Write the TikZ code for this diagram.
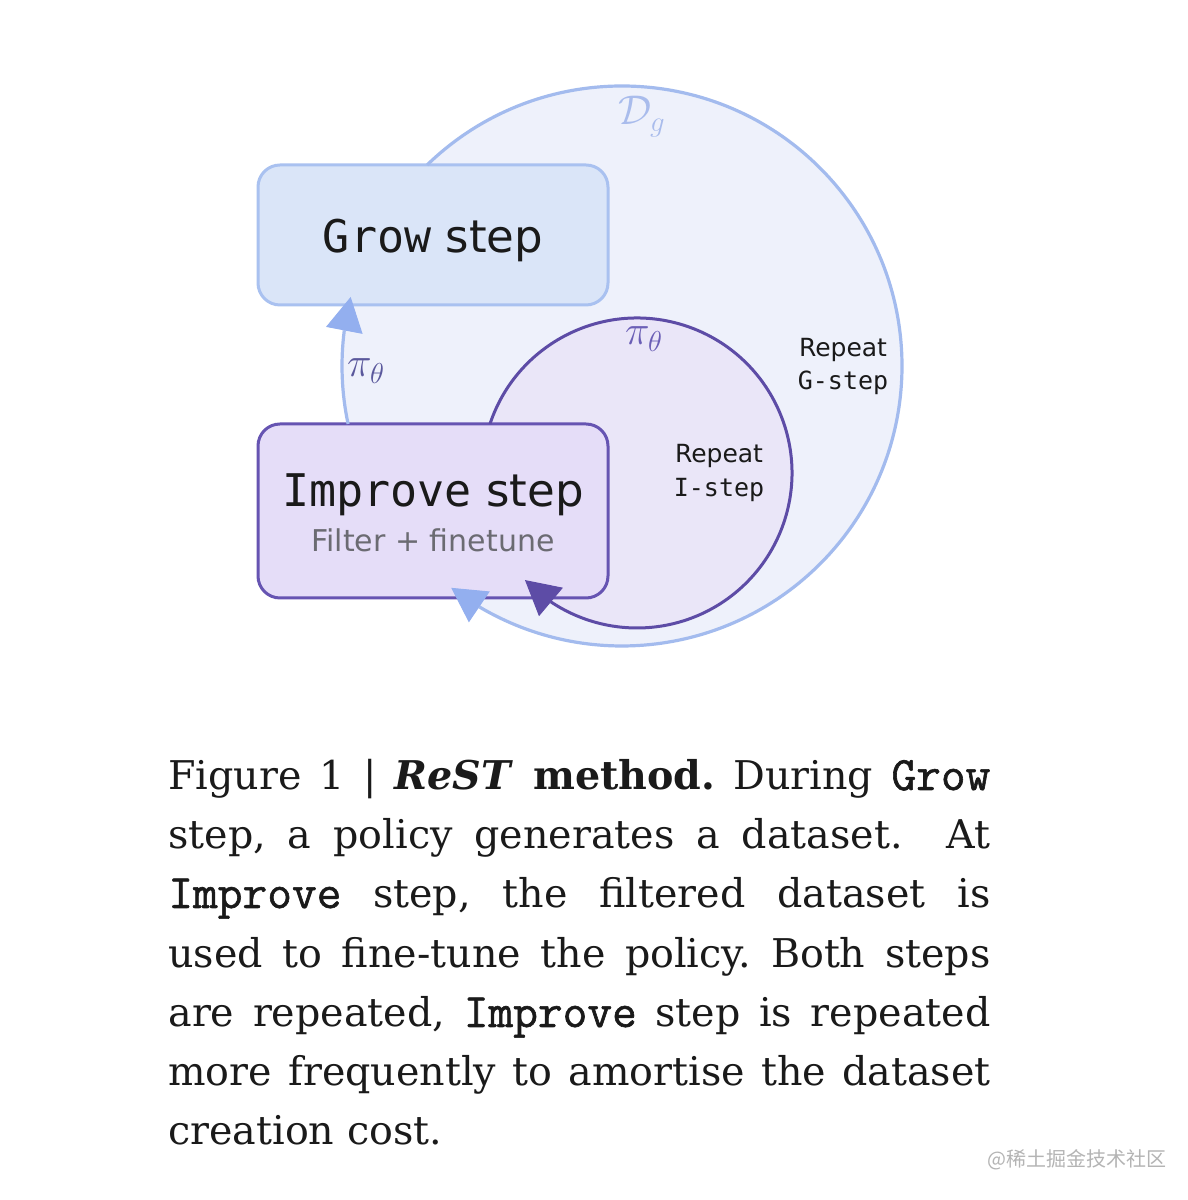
\documentclass[tikz,border=0pt]{standalone}
\usepackage{fontspec}
\usetikzlibrary{arrows.meta}
\newfontfamily\monof{DejaVu Sans Mono}
\newfontfamily\sansf{DejaVu Sans}
\newfontfamily\capf{DejaVu Serif}
\newfontfamily\capmono{Latin Modern Mono}[FakeBold=1.2]
\newfontfamily\cjkf{Noto Sans CJK SC}
\newcommand{\cmono}[1]{{\capmono\fontsize{24}{29.6}\selectfont #1}}
\definecolor{outerfill}{HTML}{EEF1FB}
\definecolor{outerline}{HTML}{A3BBEE}
\definecolor{outerhead}{HTML}{93AFEF}
\definecolor{innerfill}{HTML}{EAE6F8}
\definecolor{innerline}{HTML}{5D4CA6}
\definecolor{growfill}{HTML}{DAE5F8}
\definecolor{growline}{HTML}{A9C1F0}
\definecolor{impfill}{HTML}{E5DDF8}
\definecolor{impline}{HTML}{6654B2}
\definecolor{subgray}{HTML}{6B6B72}
\definecolor{pileft}{HTML}{5A589C}
\definecolor{piinner}{HTML}{6B5FB6}
\definecolor{dgcol}{HTML}{A9BCEC}
\definecolor{wmgray}{HTML}{B4B4B4}
\definecolor{ink}{HTML}{1A1A1A}
\begin{document}
\begin{tikzpicture}[x=0.5pt,y=0.5pt,
  stepbox/.style={draw, line width=1.5pt, rounded corners=11pt, minimum width=175pt, inner sep=0pt},
  titletext/.style={anchor=base, inner sep=0pt, text=ink, font=\sansf\fontsize{22.5}{27}\selectfont},
  reptext/.style={anchor=base, inner sep=0pt, text=ink, font=\sansf\fontsize{12.5}{15}\selectfont},
  captext/.style={anchor=base west, inner sep=0pt, text=ink, font=\capf\fontsize{19.8}{29.6}\selectfont\frenchspacing},
  outerarc/.style={draw=outerline, line width=1.6pt},
  innerarc/.style={draw=innerline, line width=1.5pt},
  outerhd/.style={draw=outerline, line width=1.6pt, -{Triangle[length=17pt,width=18.5pt,color=outerhead,fill=outerhead,line width=0.5pt]}},
  innerhd/.style={draw=innerline, line width=1.5pt, -{Triangle[length=17pt,width=18.5pt,color=innerline,fill=innerline,line width=0.5pt]}}
]
\useasboundingbox[fill=white] (0,0) rectangle (1188,1200);

% circles
\coordinate (oc) at (622,834);
\coordinate (ic) at (637,727);
\fill[outerfill] (oc) circle[radius=140pt];
\fill[innerfill] (ic) circle[radius=77.5pt];

% boxes
\node[stepbox, draw=growline, fill=growfill, minimum height=70pt] (grow) at (433,965) {};
\node[stepbox, draw=impline, fill=impfill, minimum height=87pt] (improve) at (433,689) {};

% box texts
\node[titletext] (growtxt) at (433,947) {{\monof Grow} step};
\node[titletext] (imptxt) at (433,693) {{\monof Improve} step};
\node[anchor=base, inner sep=0pt, text=subgray, font=\sansf\fontsize{15}{18}\selectfont] (subtxt) at (433,648) {Filter + finetune};

% arc end points
\coordinate (gA) at ([shift={(134.1:140pt)}]oc);
\coordinate (gB) at ([shift={(-120.6:140pt)}]oc);
\coordinate (gT) at ([shift={(-127.6:140pt)}]oc);
\coordinate (lA) at ([shift={(191.95:140pt)}]oc);
\coordinate (lB) at ([shift={(172.7:140pt)}]oc);
\coordinate (lT) at ([shift={(165.73:140pt)}]oc);
\coordinate (iA) at ([shift={(161.57:77.5pt)}]ic);
\coordinate (iB) at ([shift={(-123.8:77.5pt)}]ic);
\coordinate (iT) at ([shift={(-136.3:77.5pt)}]ic);

% arcs with arrows
\draw[outerarc] (gA) arc[start angle=134.1, end angle=-120.6, radius=140pt];
\draw[outerhd] (gB) -- (gT);
\draw[outerarc] (lA) arc[start angle=191.95, end angle=172.7, radius=140pt];
\draw[outerhd] (lB) -- (lT);
\draw[innerarc] (iA) arc[start angle=161.57, end angle=-123.8, radius=77.5pt];
\draw[innerhd] (iB) -- (iT);

% labels
\node[anchor=base, inner sep=0pt, text=dgcol, font=\fontsize{20}{24}\selectfont] (dg) at (642,1075) {$\mathcal{D}_g$};
\node[anchor=base, inner sep=0pt, text=pileft, font=\fontsize{20}{24}\selectfont] (pil) at (366,823) {$\pi_\theta$};
\node[anchor=base, inner sep=0pt, text=piinner, font=\fontsize{20}{24}\selectfont] (pii) at (644,855) {$\pi_\theta$};
\node[reptext] (rg1) at (843,843) {Repeat};
\node[reptext] (rg2) at (843,810) {\monof G-step};
\node[reptext] (ri1) at (719,737) {Repeat};
\node[reptext] (ri2) at (719,703) {\monof I-step};

% caption
\node[captext] (cap1) at (168,410) {\makebox[411pt][s]{Figure 1 | \textbf{\textit{ReST} method.} During \cmono{Grow}}};
\node[captext] (cap2) at (168,351) {\makebox[411pt][s]{step, a policy generates a dataset.\ \ At}};
\node[captext] (cap3) at (168,292) {\makebox[411pt][s]{\cmono{Improve} step, the filtered dataset is}};
\node[captext] (cap4) at (168,232) {\makebox[411pt][s]{used to fine-tune the policy. Both steps}};
\node[captext] (cap5) at (168,173) {\makebox[411pt][s]{are repeated, \cmono{Improve} step is repeated}};
\node[captext] (cap6) at (168,114) {\makebox[411pt][s]{more frequently to amortise the dataset}};
\node[captext] (cap7) at (168,55) {creation cost.};

% watermark
\node[inner sep=0pt, text=wmgray, font=\cjkf\fontsize{10}{12}\selectfont] (wm) at (1077,40) {@稀土掘金技术社区};
\end{tikzpicture}
\end{document}
